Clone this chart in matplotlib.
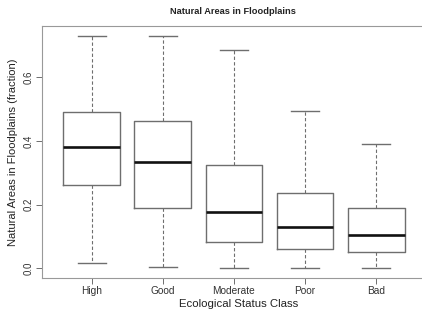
import matplotlib
matplotlib.use("Agg")
import matplotlib.pyplot as plt

categories = ["High", "Good", "Moderate", "Poor", "Bad"]
whisker_low = [0.016, 0.003, 0.002, 0.002, 0.002]
q1 = [0.262, 0.19, 0.082, 0.060, 0.050]
median = [0.382, 0.335, 0.177, 0.129, 0.104]
q3 = [0.490, 0.464, 0.325, 0.236, 0.189]
whisker_high = [0.731, 0.730, 0.686, 0.495, 0.391]
yticks = [0.0, 0.2, 0.4, 0.6]
ytick_labels = ["0.0", "0.2", "0.4", "0.6"]

plt.rcParams['font.family'] = ['Liberation Sans', 'DejaVu Sans']

fig = plt.figure(figsize=(4.22, 3.15), dpi=100)
ax = fig.add_axes([0.0995, 0.1175, 0.93, 0.7985])
ax.patch.set_edgecolor("none")
ax.patch.set_linewidth(0)

stats = []
for i, c in enumerate(categories):
    stats.append(dict(label=c, whislo=whisker_low[i], q1=q1[i], med=median[i],
                      q3=q3[i], whishi=whisker_high[i], fliers=[]))

gray = "#6e6e6e"
ax.bxp(stats, positions=range(1, len(categories) + 1), widths=0.8, capwidths=0.4,
       showfliers=False,
       boxprops=dict(color=gray, linewidth=1.0),
       medianprops=dict(color="#111111", linewidth=1.9),
       whiskerprops=dict(color=gray, linewidth=0.8, linestyle=(0, (3, 2))),
       capprops=dict(color=gray, linewidth=1.0))

ax.set_xlim(0.3, 5.82)
ax.set_ylim(-0.0305, 0.760)
ax.set_yticks(yticks)
ax.set_yticklabels(ytick_labels, rotation=90, va="center", fontsize=7, color="#333333")
ax.set_xticks(range(1, len(categories) + 1))
ax.set_xticklabels(categories, fontsize=7.3, color="#333333")
ax.tick_params(axis="both", direction="out", length=4, width=0.7, color=gray, pad=2)

for name, s in ax.spines.items():
    s.set_color("#999999")
    s.set_linewidth(0.8)
ax.spines["right"].set_color("none")
ax.spines["right"].set_linewidth(0)

ax.set_xlabel("Ecological Status Class", fontsize=8.2, color="#222222", labelpad=2)
ax.set_ylabel("Natural Areas in Floodplains (fraction)", fontsize=8, color="#222222", labelpad=4)
fig.text(0.553, 0.962, "Natural Areas in Floodplains", ha="center", va="center",
         fontsize=6.7, fontweight="bold", color="#222222")

fig.savefig("out.png", dpi=100, facecolor="white")
